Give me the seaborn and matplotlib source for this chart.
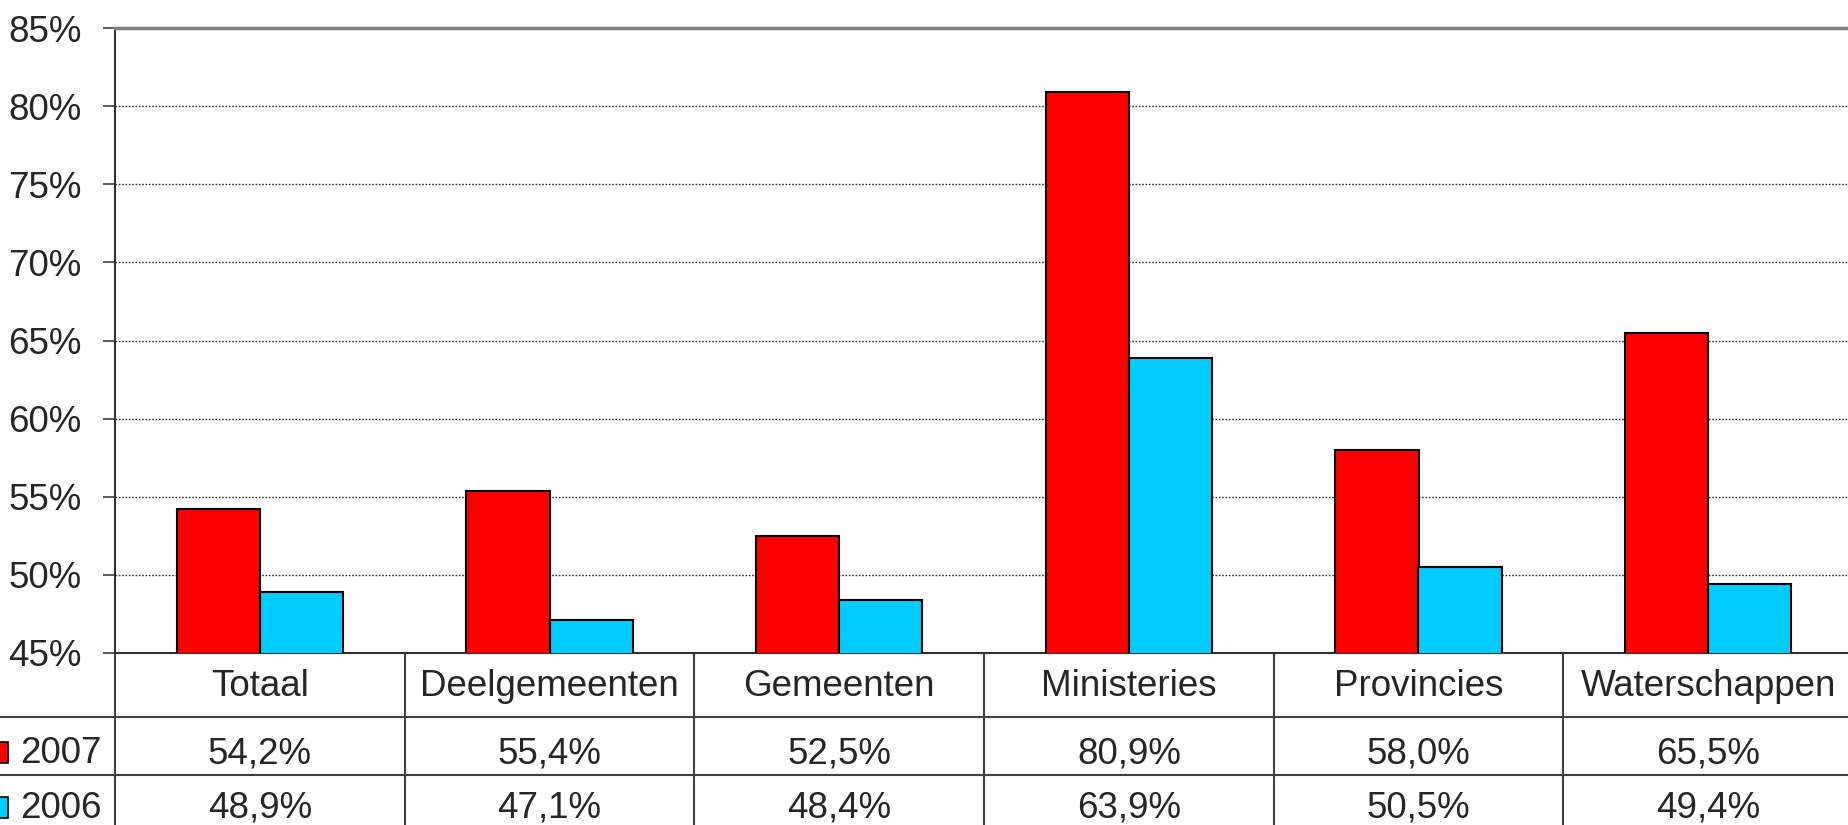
import pandas as pd
import matplotlib.pyplot as plt
import matplotlib.transforms as mtransforms
from matplotlib.patches import Rectangle
from matplotlib.lines import Line2D
import seaborn as sns

categorieen = ['Totaal', 'Deelgemeenten', 'Gemeenten', 'Ministeries', 'Provincies', 'Waterschappen']
jaren = ['2007', '2006']
waarden_2007 = [54.2, 55.4, 52.5, 80.9, 58.0, 65.5]
waarden_2006 = [48.9, 47.1, 48.4, 63.9, 50.5, 49.4]
kleuren = {'2007': '#FF0000', '2006': '#00CCFF'}
yticks = [45, 50, 55, 60, 65, 70, 75, 80, 85]

df = pd.DataFrame({
    'categorie': categorieen * 2,
    'jaar': ['2007'] * 6 + ['2006'] * 6,
    'waarde': waarden_2007 + waarden_2006,
})

sns.set_style('white')
plt.rcParams['font.family'] = ['Liberation Sans', 'DejaVu Sans']

W, H = 1848, 825
fig = plt.figure(figsize=(W / 100, H / 100), dpi=100)

def fx(px):
    return px / W

def fy(py):
    return 1 - py / H

ax = fig.add_axes([fx(115), fy(653), 1738 / W, 625 / H])
sns.barplot(data=df, x='categorie', y='waarde', hue='jaar', hue_order=jaren,
            palette=kleuren, saturation=1, width=0.574, gap=0, edgecolor='black',
            linewidth=1.5, errorbar=None, legend=False, ax=ax, zorder=3)

ax.set_ylim(45, 85)
ax.set_xlim(-0.5, 5.5)
ax.set_yticks(yticks)
ax.set_yticklabels([f'{v}%' for v in yticks], fontsize=26.5)
ax.tick_params(axis='y', length=9, width=1.2, color='#404040', pad=15, left=True)
ax.tick_params(axis='x', bottom=False, labelbottom=False)
ax.set_xlabel('')
ax.set_ylabel('')
ax.yaxis.grid(True, linestyle=(0, (1.2, 1.2)), color='#303030', linewidth=1)
ax.set_axisbelow(True)
for s in ['left', 'bottom']:
    ax.spines[s].set_color('#303030')
    ax.spines[s].set_linewidth(1.5)
ax.spines['top'].set_color('#808080')
ax.spines['top'].set_linewidth(2.5)
ax.spines['right'].set_visible(False)

# data table below the axis
blend = mtransforms.blended_transform_factory(ax.transData, fig.transFigure)
lijn = '#404040'
for i in range(len(categorieen) + 1):
    ax.add_line(Line2D([i - 0.5, i - 0.5], [fy(653), 0], transform=blend,
                       color=lijn, linewidth=1.5, clip_on=False))
for py in [717, 775]:
    fig.add_artist(Line2D([0, 1], [fy(py), fy(py)], color=lijn, linewidth=1.5))

for i, cat in enumerate(categorieen):
    ax.text(i, fy(696), cat, transform=blend, ha='center', va='baseline', fontsize=26.5)
    ax.text(i, fy(763), f'{waarden_2007[i]:.1f}%'.replace('.', ','), transform=blend,
            ha='center', va='baseline', fontsize=26.5)
    ax.text(i, fy(818), f'{waarden_2006[i]:.1f}%'.replace('.', ','), transform=blend,
            ha='center', va='baseline', fontsize=26.5)

for jaar, base in zip(jaren, [763, 818]):
    fig.add_artist(Rectangle((fx(-13), fy(base)), 21 / W, 21 / H, facecolor=kleuren[jaar],
                             edgecolor='black', linewidth=1.2, transform=fig.transFigure))
    fig.text(fx(20), fy(base), jaar, ha='left', va='baseline', fontsize=26.5)

fig.savefig('out.png', dpi=100)
